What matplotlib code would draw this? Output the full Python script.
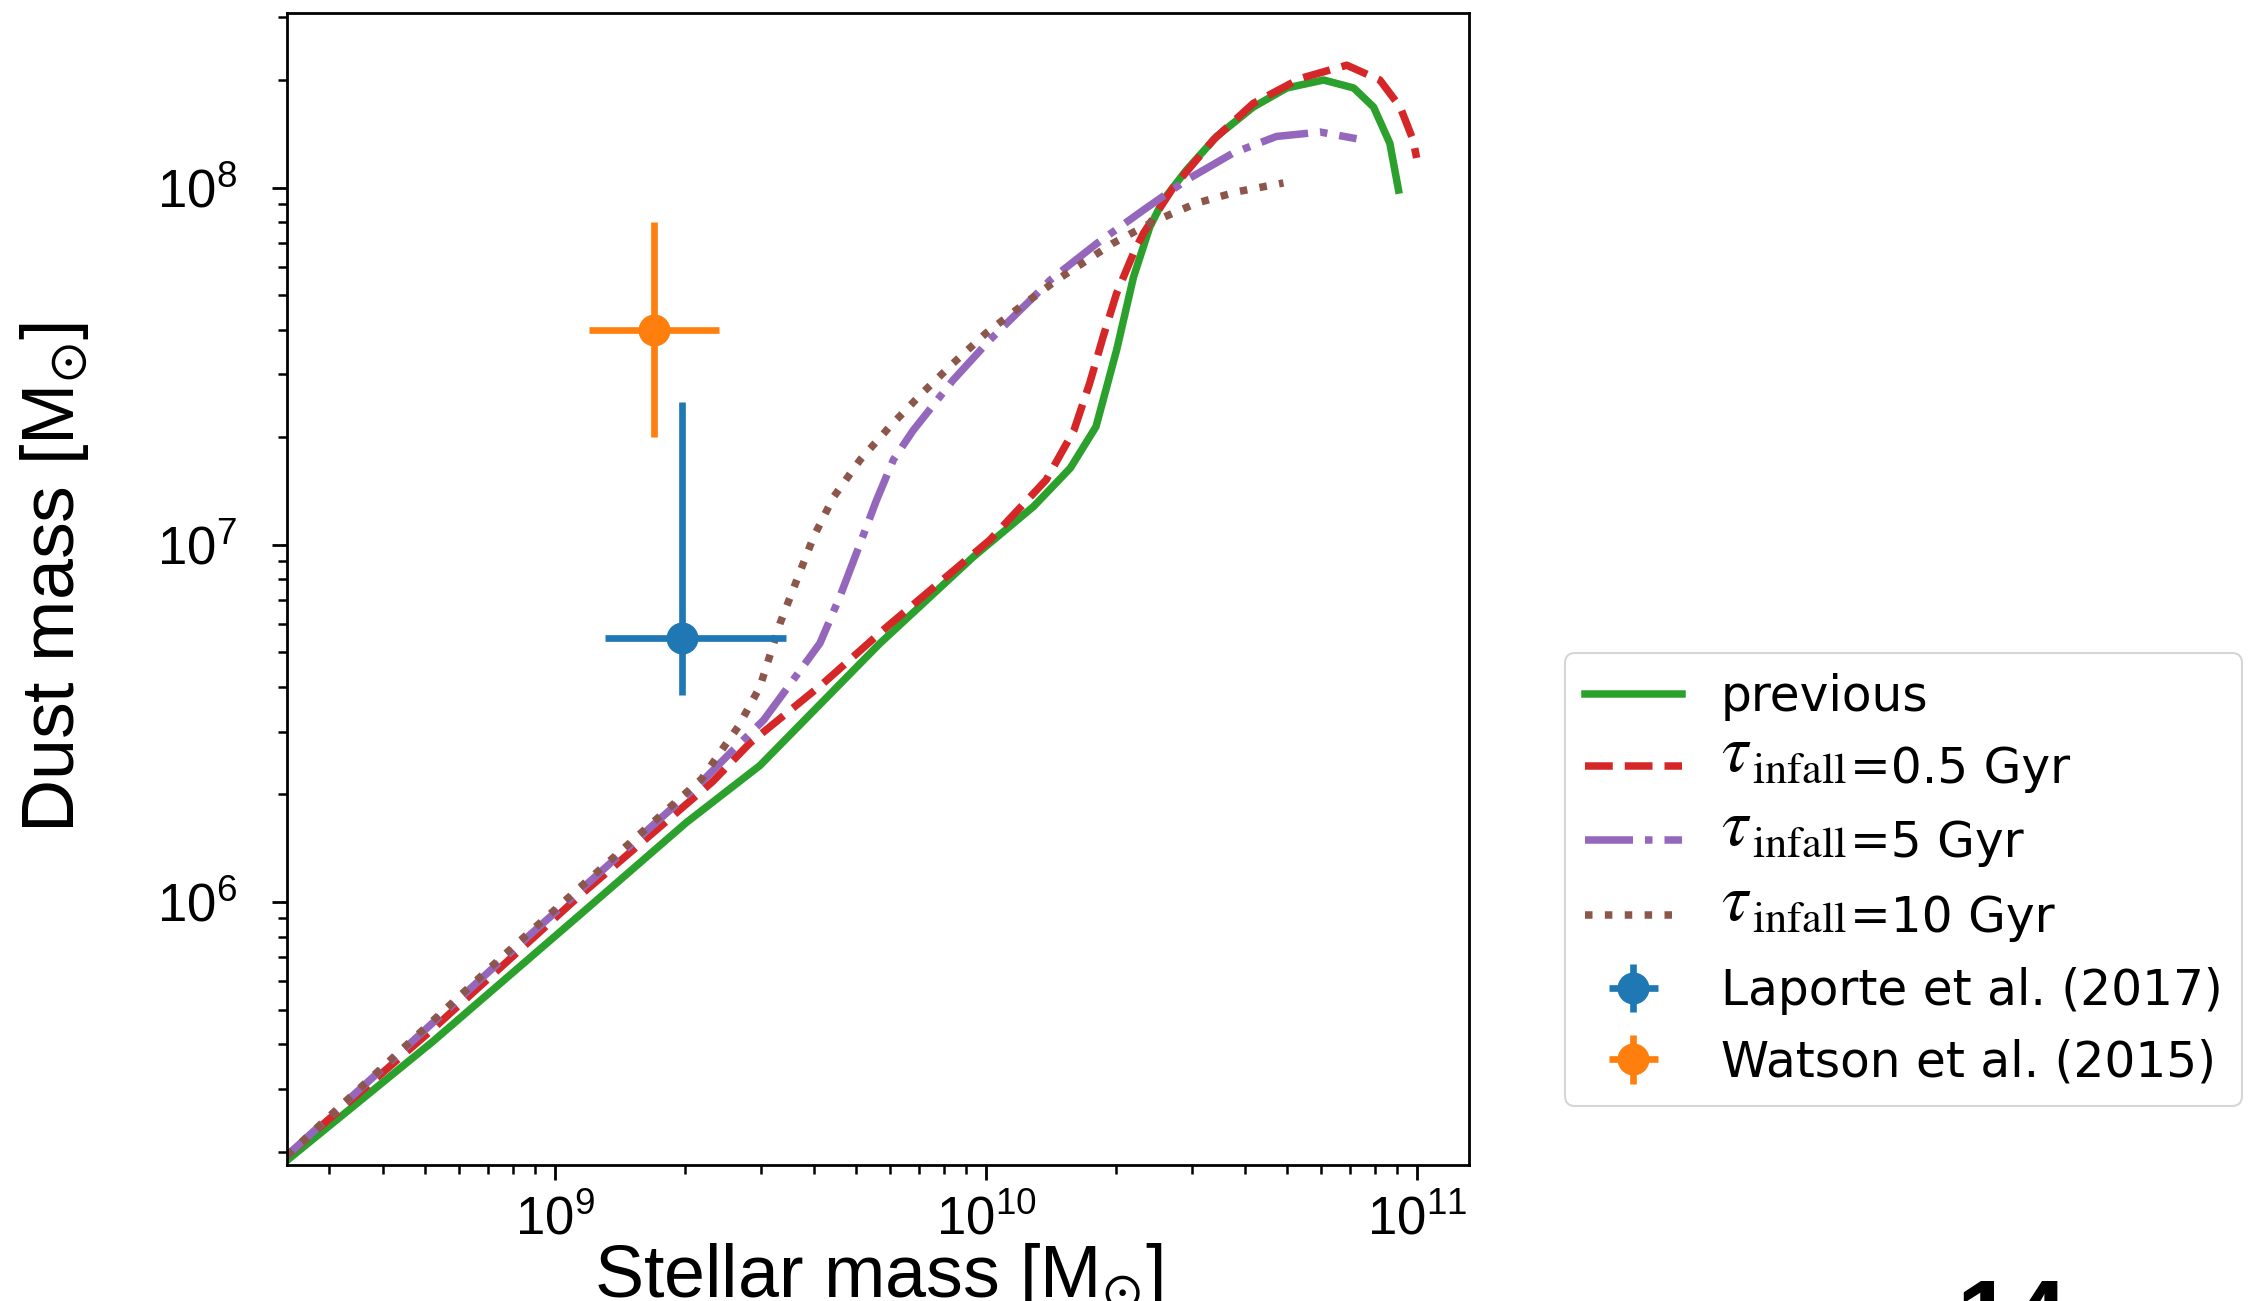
import matplotlib
matplotlib.use('Agg')
import matplotlib.pyplot as plt
import matplotlib.transforms as mtransforms

plt.rcParams['font.family'] = ['Liberation Sans', 'DejaVu Sans']
plt.rcParams['mathtext.fontset'] = 'stix'

# previous model (green, solid)
prev_mstar = [2.39e8, 5.2e8, 1.13e9, 2.02e9, 2.99e9, 5.68e9, 9.35e9, 1.29e10,
              1.57e10, 1.80e10, 2.01e10, 2.2e10, 2.4e10, 2.58e10, 2.92e10,
              3.43e10, 4.17e10, 4.99e10, 6.07e10, 7.13e10, 7.93e10, 8.65e10, 9.06e10]
prev_mdust = [1.89e5, 4.06e5, 9.1e5, 1.67e6, 2.41e6, 5.3e6, 9.25e6, 1.28e7,
              1.64e7, 2.14e7, 3.51e7, 5.62e7, 7.76e7, 9.23e7, 1.12e8,
              1.39e8, 1.68e8, 1.90e8, 2.0e8, 1.90e8, 1.68e8, 1.33e8, 9.84e7]

# tau_infall = 0.5 Gyr (red, dashed)
t05_mstar = [2.39e8, 5.2e8, 1.13e9, 2.32e9, 2.83e9, 4.19e9, 5.89e9, 1.02e10,
             1.38e10, 1.6e10, 1.74e10, 1.87e10, 2.01e10, 2.2e10, 2.32e10,
             2.72e10, 3.37e10, 4.17e10, 5.36e10, 6.87e10, 8.2e10, 9.14e10,
             9.79e10, 9.98e10]
t05_mdust = [1.95e5, 4.4e5, 1.03e6, 2.17e6, 2.78e6, 4.09e6, 5.89e6, 1.03e7,
             1.52e7, 2.09e7, 2.83e7, 3.82e7, 5.06e7, 6.55e7, 7.45e7,
             1.0e8, 1.36e8, 1.72e8, 2.02e8, 2.2e8, 2.0e8, 1.68e8,
             1.36e8, 1.21e8]

# tau_infall = 5 Gyr (purple, dash-dot)
t5_mstar = [2.39e8, 7.52e8, 2.19e9, 2.59e9, 3.05e9, 3.39e9, 4.12e9, 4.58e9,
            5.11e9, 5.57e9, 6.1e9, 6.78e9, 8.39e9, 1.02e10, 1.29e10, 1.41e10,
            1.81e10, 2.32e10, 2.92e10, 3.75e10, 4.72e10, 5.96e10, 7.24e10]
t5_mdust = [1.95e5, 6.87e5, 2.17e6, 2.66e6, 3.23e6, 3.84e6, 5.3e6, 7.14e6,
            1.01e7, 1.33e7, 1.73e7, 2.09e7, 2.89e7, 3.74e7, 4.94e7, 5.51e7,
            6.98e7, 8.65e7, 1.05e8, 1.25e8, 1.39e8, 1.43e8, 1.37e8]

# tau_infall = 10 Gyr (brown, dotted)
t10_mstar = [2.39e8, 7.52e8, 2.19e9, 2.5e9, 2.66e9, 2.99e9, 3.33e9, 3.64e9,
             3.98e9, 4.43e9, 5.11e9, 5.98e9, 7.03e9, 8.39e9, 1.0e10, 1.2e10,
             1.46e10, 1.79e10, 1.97e10, 2.44e10, 3.08e10, 3.82e10, 4.9e10]
t10_mdust = [1.95e5, 7.0e5, 2.21e6, 2.78e6, 3.09e6, 4.0e6, 6.03e6, 7.96e6,
             1.05e7, 1.36e7, 1.73e7, 2.14e7, 2.62e7, 3.22e7, 3.91e7, 4.63e7,
             5.51e7, 6.47e7, 6.98e7, 8.02e7, 9.04e7, 9.73e7, 1.03e8]

tau_values = ['0.5', '5', '10']

# observations: value, lower error, upper error
laporte_mstar, laporte_mstar_err = 1.97e9, [0.66e9, 1.46e9]
laporte_mdust, laporte_mdust_err = 5.5e6, [1.7e6, 1.96e7]
watson_mstar, watson_mstar_err = 1.7e9, [0.5e9, 0.7e9]
watson_mdust, watson_mdust_err = 4.0e7, [2.0e7, 4.0e7]

fig = plt.figure(figsize=(22.52, 13.01), dpi=100)
ax = fig.add_axes([0.1274, 0.1045, 0.5249, 0.8855])

lw = 5.4
ax.plot(prev_mstar, prev_mdust, color='#2ca02c', lw=lw, label='previous')
for xs, ys, c, ls, tv in [(t05_mstar, t05_mdust, '#d62728', '--', tau_values[0]),
                          (t5_mstar, t5_mdust, '#9467bd', '-.', tau_values[1]),
                          (t10_mstar, t10_mdust, '#8c564b', ':', tau_values[2])]:
    ax.plot(xs, ys, color=c, lw=lw, ls=ls,
            label=r'$\tau_{\rm infall}$=' + tv + ' Gyr')

ax.errorbar([laporte_mstar], [laporte_mdust],
            xerr=[[laporte_mstar_err[0]], [laporte_mstar_err[1]]],
            yerr=[[laporte_mdust_err[0]], [laporte_mdust_err[1]]],
            fmt='o', color='#1f77b4', ms=22, elinewidth=4.8,
            label='Laporte et al. (2017)')
ax.errorbar([watson_mstar], [watson_mdust],
            xerr=[[watson_mstar_err[0]], [watson_mstar_err[1]]],
            yerr=[[watson_mdust_err[0]], [watson_mdust_err[1]]],
            fmt='o', color='#ff7f0e', ms=22, elinewidth=4.8,
            label='Watson et al. (2015)')

ax.set_xscale('log')
ax.set_yscale('log')
ax.set_xlim(2.39e8, 1.32e11)
ax.set_ylim(1.835e5, 3.08e8)

for s in ax.spines.values():
    s.set_linewidth(2.0)
ax.tick_params(which='major', length=11, width=2.0, labelsize=38)
ax.tick_params(which='minor', length=6.5, width=1.8)
ax.tick_params(axis='x', which='major', pad=11)
ax.tick_params(axis='y', which='major', pad=25)

ax.set_xlabel(r'Stellar mass [M$_{\odot}$]', fontsize=53)
ax.set_ylabel(r'Dust mass [M$_{\odot}$]', fontsize=53)
ax.xaxis.set_label_coords(0.5, -0.066)
ax.yaxis.set_label_coords(-0.166, 0.51)

leg = fig.legend(*ax.get_legend_handles_labels(), loc='upper left',
                 bbox_to_anchor=(0.695, 0.498), borderaxespad=0,
                 labelspacing=0.48,
                 prop={'family': 'DejaVu Sans', 'size': 35})
leg.get_frame().set_linewidth(1.5)

# slide page number, cut off at the bottom edge
fig.text(0.869, -0.0377, '14', fontsize=72, fontweight='bold', ha='left', va='baseline')

# the tau labels have a big tau and a full-size "infall" on the text baseline;
# redraw them over the (hidden) legend texts
fig.canvas.draw()
renderer = fig.canvas.get_renderer()
px = mtransforms.IdentityTransform()
for t, tv in zip(leg.get_texts()[1:4], tau_values):
    x0, y0 = t.get_transform().transform(t.get_position())
    t.set_alpha(0)
    tau = fig.text(x0, y0 + 12, r'$\tau$', fontsize=48, transform=px,
                   va='baseline', zorder=10)
    x1 = tau.get_window_extent(renderer).x1 + 1
    sub = fig.text(x1, y0, r'$\mathrm{infall}$', fontsize=32, transform=px,
                   va='baseline', zorder=10)
    x2 = sub.get_window_extent(renderer).x1 + 3
    fig.text(x2, y0, '=' + tv + ' Gyr', fontsize=35, family='DejaVu Sans',
             transform=px, va='baseline', zorder=10)

fig.savefig('out.png', dpi=100)
